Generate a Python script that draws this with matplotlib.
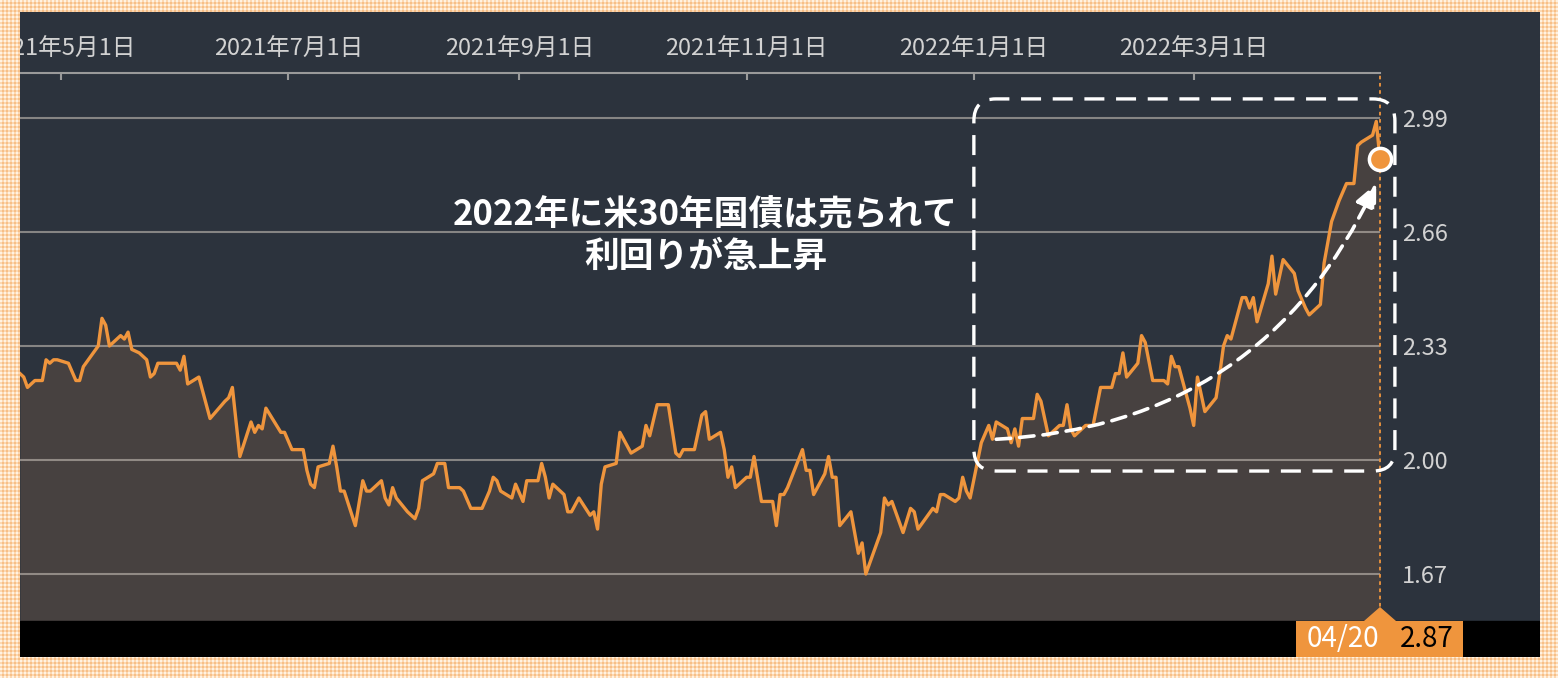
import numpy as np
import pandas as pd
import matplotlib
matplotlib.use('Agg')
import matplotlib.pyplot as plt
import matplotlib.dates as mdates
from matplotlib.patches import FancyBboxPatch, Rectangle, Polygon
from matplotlib.transforms import IdentityTransform

plt.rcParams['font.family'] = ['Noto Sans CJK JP', 'DejaVu Sans']

# 米30年国債利回り (2021/04/20 - 2022/04/20)
dates = [
    '2021-04-20', '2021-04-21', '2021-04-22', '2021-04-24', '2021-04-26', '2021-04-27',
    '2021-04-28', '2021-04-29', '2021-04-30', '2021-05-03', '2021-05-05', '2021-05-06',
    '2021-05-07', '2021-05-11', '2021-05-12', '2021-05-13', '2021-05-14', '2021-05-17',
    '2021-05-18', '2021-05-19', '2021-05-20', '2021-05-22', '2021-05-24', '2021-05-25',
    '2021-05-26', '2021-05-27', '2021-05-31', '2021-06-01', '2021-06-02', '2021-06-03',
    '2021-06-04', '2021-06-07', '2021-06-10', '2021-06-14', '2021-06-15', '2021-06-16',
    '2021-06-18', '2021-06-21', '2021-06-22', '2021-06-23', '2021-06-24', '2021-06-25',
    '2021-06-29', '2021-06-30', '2021-07-02', '2021-07-05', '2021-07-06', '2021-07-07',
    '2021-07-08', '2021-07-09', '2021-07-12', '2021-07-13', '2021-07-14', '2021-07-15',
    '2021-07-16', '2021-07-19', '2021-07-21', '2021-07-22', '2021-07-23', '2021-07-26',
    '2021-07-27', '2021-07-28', '2021-07-29', '2021-07-30', '2021-08-02', '2021-08-03',
    '2021-08-04', '2021-08-05', '2021-08-06', '2021-08-09', '2021-08-10', '2021-08-12',
    '2021-08-13', '2021-08-16', '2021-08-17', '2021-08-19', '2021-08-22', '2021-08-24',
    '2021-08-25', '2021-08-26', '2021-08-27', '2021-08-30', '2021-08-31', '2021-09-02',
    '2021-09-03', '2021-09-06', '2021-09-07', '2021-09-08', '2021-09-09', '2021-09-10',
    '2021-09-13', '2021-09-14', '2021-09-15', '2021-09-17', '2021-09-20', '2021-09-21',
    '2021-09-22', '2021-09-23', '2021-09-24', '2021-09-27', '2021-09-28', '2021-09-29',
    '2021-10-01', '2021-10-04', '2021-10-05', '2021-10-06', '2021-10-08', '2021-10-11',
    '2021-10-13', '2021-10-14', '2021-10-15', '2021-10-18', '2021-10-20', '2021-10-21',
    '2021-10-22', '2021-10-25', '2021-10-26', '2021-10-27', '2021-10-28', '2021-10-29',
    '2021-11-01', '2021-11-02', '2021-11-03', '2021-11-05', '2021-11-08', '2021-11-09',
    '2021-11-10', '2021-11-11', '2021-11-12', '2021-11-16', '2021-11-17', '2021-11-18',
    '2021-11-19', '2021-11-22', '2021-11-23', '2021-11-24', '2021-11-25', '2021-11-26',
    '2021-11-29', '2021-12-01', '2021-12-02', '2021-12-03', '2021-12-07', '2021-12-08',
    '2021-12-09', '2021-12-10', '2021-12-13', '2021-12-15', '2021-12-16', '2021-12-17',
    '2021-12-21', '2021-12-22', '2021-12-23', '2021-12-24', '2021-12-27', '2021-12-28',
    '2021-12-29', '2021-12-30', '2021-12-31', '2022-01-03', '2022-01-05', '2022-01-06',
    '2022-01-07', '2022-01-10', '2022-01-11', '2022-01-12', '2022-01-13', '2022-01-14',
    '2022-01-17', '2022-01-18', '2022-01-19', '2022-01-21', '2022-01-24', '2022-01-25',
    '2022-01-26', '2022-01-27', '2022-01-28', '2022-01-31', '2022-02-02', '2022-02-04',
    '2022-02-07', '2022-02-08', '2022-02-09', '2022-02-10', '2022-02-11', '2022-02-14',
    '2022-02-15', '2022-02-16', '2022-02-18', '2022-02-21', '2022-02-22', '2022-02-23',
    '2022-02-24', '2022-02-25', '2022-02-28', '2022-03-01', '2022-03-02', '2022-03-04',
    '2022-03-07', '2022-03-08', '2022-03-09', '2022-03-10', '2022-03-11', '2022-03-14',
    '2022-03-15', '2022-03-16', '2022-03-17', '2022-03-18', '2022-03-21', '2022-03-22',
    '2022-03-23', '2022-03-25', '2022-03-28', '2022-03-29', '2022-03-31', '2022-04-01',
    '2022-04-04', '2022-04-05', '2022-04-07', '2022-04-09', '2022-04-11', '2022-04-13',
    '2022-04-14', '2022-04-15', '2022-04-18', '2022-04-19', '2022-04-20',
]
yields = [
    2.25, 2.24, 2.21, 2.23, 2.23, 2.29, 2.28, 2.29, 2.29, 2.28, 2.23, 2.23,
    2.27, 2.33, 2.41, 2.39, 2.33, 2.36, 2.35, 2.37, 2.32, 2.31, 2.29, 2.24,
    2.25, 2.28, 2.28, 2.28, 2.26, 2.30, 2.22, 2.24, 2.12, 2.17, 2.18, 2.21,
    2.01, 2.11, 2.08, 2.10, 2.09, 2.15, 2.08, 2.08, 2.03, 2.03, 1.97, 1.93,
    1.92, 1.98, 1.99, 2.04, 1.98, 1.91, 1.91, 1.81, 1.94, 1.91, 1.91, 1.94,
    1.89, 1.87, 1.92, 1.89, 1.85, 1.84, 1.83, 1.86, 1.94, 1.96, 1.99, 1.99,
    1.92, 1.92, 1.91, 1.86, 1.86, 1.91, 1.95, 1.94, 1.91, 1.89, 1.93, 1.88,
    1.94, 1.94, 1.99, 1.95, 1.89, 1.93, 1.90, 1.85, 1.85, 1.89, 1.84, 1.85,
    1.80, 1.93, 1.98, 1.99, 2.08, 2.06, 2.02, 2.04, 2.10, 2.07, 2.16, 2.16,
    2.02, 2.01, 2.03, 2.03, 2.13, 2.14, 2.06, 2.08, 2.03, 1.95, 1.98, 1.92,
    1.95, 1.95, 2.01, 1.88, 1.88, 1.81, 1.90, 1.90, 1.92, 2.03, 1.97, 1.97,
    1.90, 1.96, 2.01, 1.95, 1.95, 1.81, 1.85, 1.73, 1.76, 1.67, 1.79, 1.89,
    1.87, 1.88, 1.79, 1.86, 1.85, 1.80, 1.86, 1.85, 1.90, 1.90, 1.88, 1.89,
    1.95, 1.91, 1.89, 2.05, 2.10, 2.06, 2.11, 2.09, 2.05, 2.09, 2.04, 2.12,
    2.12, 2.19, 2.17, 2.07, 2.10, 2.10, 2.16, 2.09, 2.07, 2.10, 2.10, 2.21,
    2.21, 2.25, 2.25, 2.31, 2.24, 2.28, 2.36, 2.34, 2.23, 2.23, 2.22, 2.30,
    2.27, 2.27, 2.15, 2.10, 2.24, 2.14, 2.18, 2.25, 2.33, 2.36, 2.35, 2.47,
    2.47, 2.44, 2.47, 2.40, 2.51, 2.59, 2.48, 2.58, 2.54, 2.49, 2.44, 2.42,
    2.45, 2.57, 2.69, 2.75, 2.80, 2.80, 2.91, 2.92, 2.94, 2.98, 2.87,
]
ytick_values = [1.67, 2.00, 2.33, 2.66, 2.99]
note_text = '2022年に米30年国債は売られて\n利回りが急上昇'

W, H = 1558, 678
PANEL = '#2c333d'
FILL = '#474140'
ORANGE = '#ef953d'
GREY_TXT = '#d2d2d2'
Y_LOW, Y_HIGH = 1.534, 3.12

x = pd.to_datetime(dates)

fig = plt.figure(figsize=(W / 100, H / 100), dpi=100, facecolor=PANEL)
ax = fig.add_axes([20 / W, 57 / H, 1360 / W, 548 / H])
ax.set_facecolor('none')

ax.fill_between(x, yields, Y_LOW, color=FILL, lw=0, zorder=1)
ax.plot(x, yields, color=ORANGE, lw=2.4, zorder=3)
ax.set_xlim(pd.Timestamp('2021-04-20'), x[-1])
ax.set_ylim(Y_LOW, Y_HIGH)

# 右側の目盛り
ax.set_yticks(ytick_values)
ax.set_yticklabels(['%.2f' % v for v in ytick_values])
ax.yaxis.tick_right()
ax.tick_params(axis='y', length=0, pad=16, labelsize=17, labelcolor=GREY_TXT)
ax.grid(axis='y', color='#c4bcb4', alpha=0.6, lw=1.5)
ax.set_axisbelow('line')

# 上側の日付軸
ax.xaxis.tick_top()
ax.xaxis.set_major_locator(mdates.MonthLocator(bymonth=[1, 3, 5, 7, 9, 11]))
def date_label(v, pos=None):
    d = mdates.num2date(v)
    return f'{d.year}年{d.month}月{d.day}日'
ax.xaxis.set_major_formatter(plt.FuncFormatter(date_label))
ax.tick_params(axis='x', direction='in', length=5, width=1.5, color='#9a9a9a',
               pad=9, labelsize=17, labelcolor=GREY_TXT)
for s in ['left', 'right', 'bottom']:
    ax.spines[s].set_visible(False)
ax.spines['top'].set_color('#9a9a9a')
ax.spines['top'].set_linewidth(1.5)

# 最新値
ax.axvline(x[-1], color=ORANGE, lw=1.3, ls=(0, (2, 2)), zorder=2, clip_on=False)
ax.plot(x[-1], yields[-1], 'o', ms=16, mfc=ORANGE, mec='white', mew=2.5,
        zorder=6, clip_on=False)

# 注釈
ax.text(pd.Timestamp('2021-10-21'), 2.65, note_text, ha='center', va='center',
        color='white', fontsize=25, fontweight='bold', linespacing=1.22, zorder=7)
ax.annotate('', xy=(pd.Timestamp('2022-04-19'), 2.80),
            xytext=(pd.Timestamp('2022-01-07'), 2.06),
            arrowprops=dict(arrowstyle='-|>,head_length=0.72,head_width=0.33',
                            connectionstyle='arc3,rad=0.3', color='white', lw=2.6,
                            linestyle=(0, (4, 2.5)), shrinkA=0, shrinkB=0,
                            mutation_scale=20), zorder=5)

p0 = ax.transData.transform((mdates.date2num(pd.Timestamp('2022-01-01')), 1.968))
p1 = ax.transData.transform((mdates.date2num(pd.Timestamp('2022-04-24')), 3.045))
box = FancyBboxPatch((p0[0], p0[1]), p1[0] - p0[0], p1[1] - p0[1],
                     boxstyle='round,pad=0,rounding_size=22', transform=IdentityTransform(),
                     fill=False, ec='white', lw=2.4, ls=(0, (6, 3.5)), zorder=4)
fig.add_artist(box)

# 下の黒帯とラベル
fig.add_artist(Rectangle((20 / W, 21 / H), 1520 / W, 36 / H, transform=fig.transFigure,
                         color='black', zorder=2))
px_last = ax.transData.transform((mdates.date2num(x[-1]), Y_LOW))[0]
fig.add_artist(Rectangle((px_last - 84, 21), 167, 36, transform=IdentityTransform(),
                         color=ORANGE, lw=0, zorder=5))
fig.add_artist(Polygon([(px_last - 16, 57), (px_last + 16, 57), (px_last, 71)],
                       closed=True, transform=IdentityTransform(), color=ORANGE, lw=0, zorder=5))
fig.text(px_last - 37, 39, x[-1].strftime('%m/%d'), transform=IdentityTransform(),
         ha='center', va='center', color='white', fontsize=20, zorder=6)
fig.text(px_last + 47, 39, '%.2f' % yields[-1], transform=IdentityTransform(),
         ha='center', va='center', color='black', fontsize=20, zorder=6)

# ギンガムチェックの枠
rr, cc = np.mgrid[0:H, 0:W]
a = (rr // 2) % 2
b = (cc // 2) % 2
img = np.zeros((H, W, 4))
img[..., :3] = (1.0, 0.95, 0.89)
img[(a + b) == 1, :3] = (0.99, 0.85, 0.70)
img[(a + b) == 2, :3] = (0.97, 0.75, 0.53)
img[..., 3] = 1.0
img[12:657, 20:1540, 3] = 0.0
ax_bg = fig.add_axes([0, 0, 1, 1], zorder=10)
ax_bg.imshow(img, interpolation='none', aspect='auto')
ax_bg.set_axis_off()

fig.savefig('out.png', dpi=100, facecolor=PANEL)
